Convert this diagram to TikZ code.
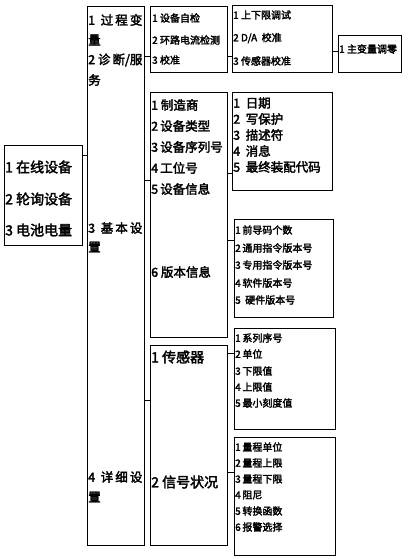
\documentclass[tikz,border=0pt]{standalone}
\usepackage{fontspec}
\setmainfont{Liberation Serif}
\newfontfamily\cjk[FakeBold=2.5]{Noto Sans CJK SC}
\usetikzlibrary{fit}
\tikzset{
  box/.style={draw, line width=1pt, inner sep=0pt},
  conn/.style={draw, line width=1pt},
  lbl/.style={anchor=west, inner sep=0pt},
  big/.style={lbl, font=\cjk\fontsize{14}{14}\selectfont},
  mid/.style={lbl, font=\cjk\fontsize{12.5}{12.5}\selectfont},
  sml/.style={lbl, font=\cjk\fontsize{10}{10}\selectfont}
}
\begin{document}
\begin{tikzpicture}[x=1pt,y=-1pt]
\useasboundingbox (0,0) rectangle (408,559);
% boxes
\node[box, fit={(4,145) (82,245)}] (L) {};
\node[box, fit={(87,7) (144,545)}] (P) {};
\node[box, fit={(150,7) (227,73)}] (A) {};
\node[box, fit={(150,93) (227,337)}] (B) {};
\node[box, fit={(150,345) (227,545)}] (C) {};
\node[box, fit={(232,6) (332,73)}] (D) {};
\node[box, fit={(338,36) (401,73)}] (E) {};
\node[box, fit={(232,93) (332,190)}] (F) {};
\node[box, fit={(234,219) (333,317)}] (G) {};
\node[box, fit={(234,328) (335,429)}] (H) {};
\node[box, fit={(234,437) (335,555)}] (I) {};
% connectors
\draw[conn] (L.east |- 0,155) -- (P.west |- 0,155);
\draw[conn] (P.east |- 0,57) -- (A.west |- 0,57);
\draw[conn] (P.east |- 0,180) -- (B.west |- 0,180);
\draw[conn] (P.east |- 0,400) -- (C.west |- 0,400);
\draw[conn] (A.east |- 0,57) -- (D.west |- 0,57);
\draw[conn] (D.east |- 0,52) -- (E.west |- 0,52);
\draw[conn] (B.east |- 0,173) -- (F.west |- 0,173);
\draw[conn] (B.east |- 0,240) -- (G.west |- 0,240);
\draw[conn] (C.east |- 0,353) -- (H.west |- 0,353);
\draw[conn] (C.east |- 0,472) -- (I.west |- 0,472);
% left box
\node[big] (l1) at (5,167) {1\ 在线设备};
\node[big] (l2) at (5,199) {2\ 轮询设备};
\node[big] (l3) at (5,230) {3\ 电池电量};
% column 2
\node[mid] (p1) at (88,20) {1\ \ 过\,程\,变};
\node[mid] (p1b) at (88,40) {量};
\node[mid] (p2) at (88,60) {2\ 诊\,断/服};
\node[mid] (p2b) at (88,80) {务};
\node[mid] (p3) at (88,228) {3\ \ 基\,本\,设};
\node[mid] (p3b) at (88,247) {置};
\node[mid] (p4) at (88,477) {4\ \ 详\,细\,设};
\node[mid] (p4b) at (88,497) {置};
% box A
\node[sml] (a1) at (152,18) {1\ 设备自检};
\node[sml] (a2) at (152,40) {2\ 环路电流检测};
\node[sml] (a3) at (152,60) {3\ 校准};
% box B
\node[mid] (b1) at (151,105) {1\ 制造商};
\node[mid] (b2) at (151,126) {2\,设备类型};
\node[mid] (b3) at (151,147) {3\,设备序列号};
\node[mid] (b4) at (151,168) {4\,工位号};
\node[mid] (b5) at (151,189) {5\,设备信息};
\node[mid] (b6) at (151,272) {6\ 版本信息};
% box C
\node[big] (c1) at (151,357) {1\ 传感器};
\node[big] (c2) at (151,482) {2\ 信号状况};
% box D
\node[sml] (d1) at (233,15) {1\ 上下限调试};
\node[sml] (d2) at (233,38) {2\ D/A\ \ 校准};
\node[sml] (d3) at (233,61) {3\ 传感器校准};
% box E
\node[sml] (e1) at (339,49) {1\ 主变量调零};
% box F
\node[mid] (f1) at (233,103) {1\ \ 日期};
\node[mid] (f2) at (233,119) {2\ \ 写保护};
\node[mid] (f3) at (233,135) {3\ \ 描述符};
\node[mid] (f4) at (233,151) {4\ \ 消息};
\node[mid] (f5) at (233,167) {5\ \ 最终装配代码};
% box G
\node[sml] (g1) at (235,230) {1\,前导码个数};
\node[sml] (g2) at (235,248) {2\,通用指令版本号};
\node[sml] (g3) at (235,265) {3\,专用指令版本号};
\node[sml] (g4) at (235,283) {4\,软件版本号};
\node[sml] (g5) at (235,300) {5\ \ 硬件版本号};
% box H
\node[sml] (h1) at (235,338) {1\,系列序号};
\node[sml] (h2) at (235,354) {2\,单位};
\node[sml] (h3) at (235,371) {3\,下限值};
\node[sml] (h4) at (235,387) {4\,上限值};
\node[sml] (h5) at (235,403) {5\,最小刻度值};
% box I
\node[sml] (i1) at (235,447) {1\,量程单位};
\node[sml] (i2) at (235,463) {2\,量程上限};
\node[sml] (i3) at (235,479) {3\,量程下限};
\node[sml] (i4) at (235,495) {4\,阻尼};
\node[sml] (i5) at (235,511) {5\,转换函数};
\node[sml] (i6) at (235,527) {6\,报警选择};
\end{tikzpicture}
\end{document}
